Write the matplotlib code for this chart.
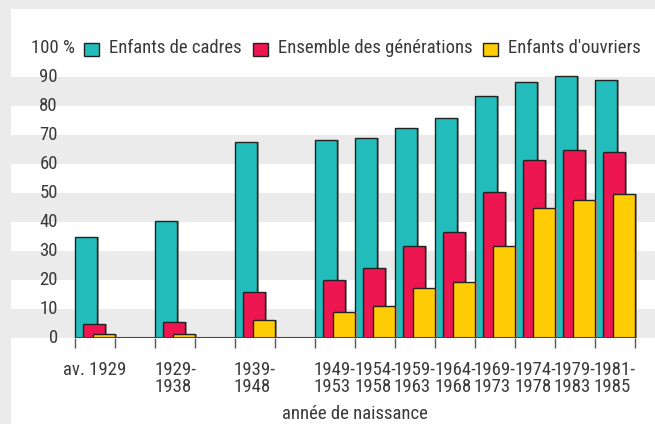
import matplotlib
matplotlib.use("Agg")
import matplotlib.pyplot as plt
from matplotlib.patches import Rectangle

plt.rcParams['font.family'] = ['Roboto Condensed', 'DejaVu Sans']

# data
periods = ["av. 1929", "1929-\n1938", "1939-\n1948", "1949-\n1953", "1954-\n1958",
           "1959-\n1963", "1964-\n1968", "1969-\n1973", "1974-\n1978", "1979-\n1983",
           "1981-\n1985"]
slots = [0, 2, 4, 6, 7, 8, 9, 10, 11, 12, 13]
cadres = [35, 40.5, 67.5, 68.2, 69, 72.4, 75.9, 83.4, 88.3, 90.3, 89]
ensemble = [4.8, 5.5, 15.9, 20, 24.1, 31.7, 36.6, 50.3, 61.4, 64.8, 64.1]
ouvriers = [1.4, 1.4, 6.2, 9, 11, 17.2, 19.3, 31.7, 44.8, 47.6, 49.7]
series = [("Enfants de cadres", cadres, "#22bdbb"),
          ("Ensemble des générations", ensemble, "#ed1651"),
          ("Enfants d'ouvriers", ouvriers, "#ffcc05")]

W, H = 655, 424
BG = "#ebebeb"
TXT = "#3a3a3a"
FS = 13.5

fig = plt.figure(figsize=(W / 100, H / 100), dpi=100, facecolor=BG)
# white panel
fig.patches.append(Rectangle((11 / W, 0), 1, 1 - 9 / H, transform=fig.transFigure,
                             facecolor="white", edgecolor="none", zorder=-10))

ax = fig.add_axes([11 / W, (H - 338) / H, 644 / W, 290 / H])
ax.set_facecolor("none")
ax.set_xlim(-1.6, 14.5)
ax.set_ylim(0, 100)
for s in ax.spines.values():
    s.set_visible(False)

for lo in range(0, 90, 20):
    ax.axhspan(lo, lo + 10, color=BG, zorder=0, lw=0)

offsets = [0, 0.2, 0.45]
bw = 0.55
for (name, vals, col), off in zip(series, offsets):
    xs = [p + off for p in slots]
    ax.bar([x + 0.04 for x in xs], vals, width=bw, align="edge", color="#9a9a9a",
           edgecolor="none", zorder=2)
    ax.bar(xs, vals, width=bw, align="edge", color=col, edgecolor="#222222",
           linewidth=1.0, zorder=2)

ax.hlines(0, 0, 14, color="#444444", lw=1.5, zorder=3)
ax.set_xticks(range(15))
ax.set_xticklabels([])
ax.tick_params(axis="x", direction="out", length=7, width=1, color="#555555")
ax.set_yticks([])

for v in range(0, 100, 10):
    ax.text(-0.43, v, str(v), ha="right", va="center", fontsize=FS, color=TXT)

for p, lab in zip(slots, periods):
    ax.text(p + 0.5, -7.8, lab, ha="center", va="top", multialignment="left",
            fontsize=FS, color=TXT, linespacing=0.95)

fig.text(355 / W, 1 - 414 / H, "année de naissance", ha="center", va="center",
         fontsize=FS, color=TXT)

# legend row
fig.text(31 / W, 1 - 48 / H, "100 %", ha="left", va="center", fontsize=FS, color=TXT)
leg_x = [84, 253, 483]
for (name, vals, col), x in zip(series, leg_x):
    fig.patches.append(Rectangle((x / W, 1 - 56 / H), 15 / W, 13 / H,
                                 transform=fig.transFigure, facecolor=col,
                                 edgecolor="#222222", lw=1.0))
    fig.text((x + 25) / W, 1 - 48 / H, name, ha="left", va="center",
             fontsize=FS, color=TXT)

fig.savefig("out.png", dpi=100, facecolor=BG)
